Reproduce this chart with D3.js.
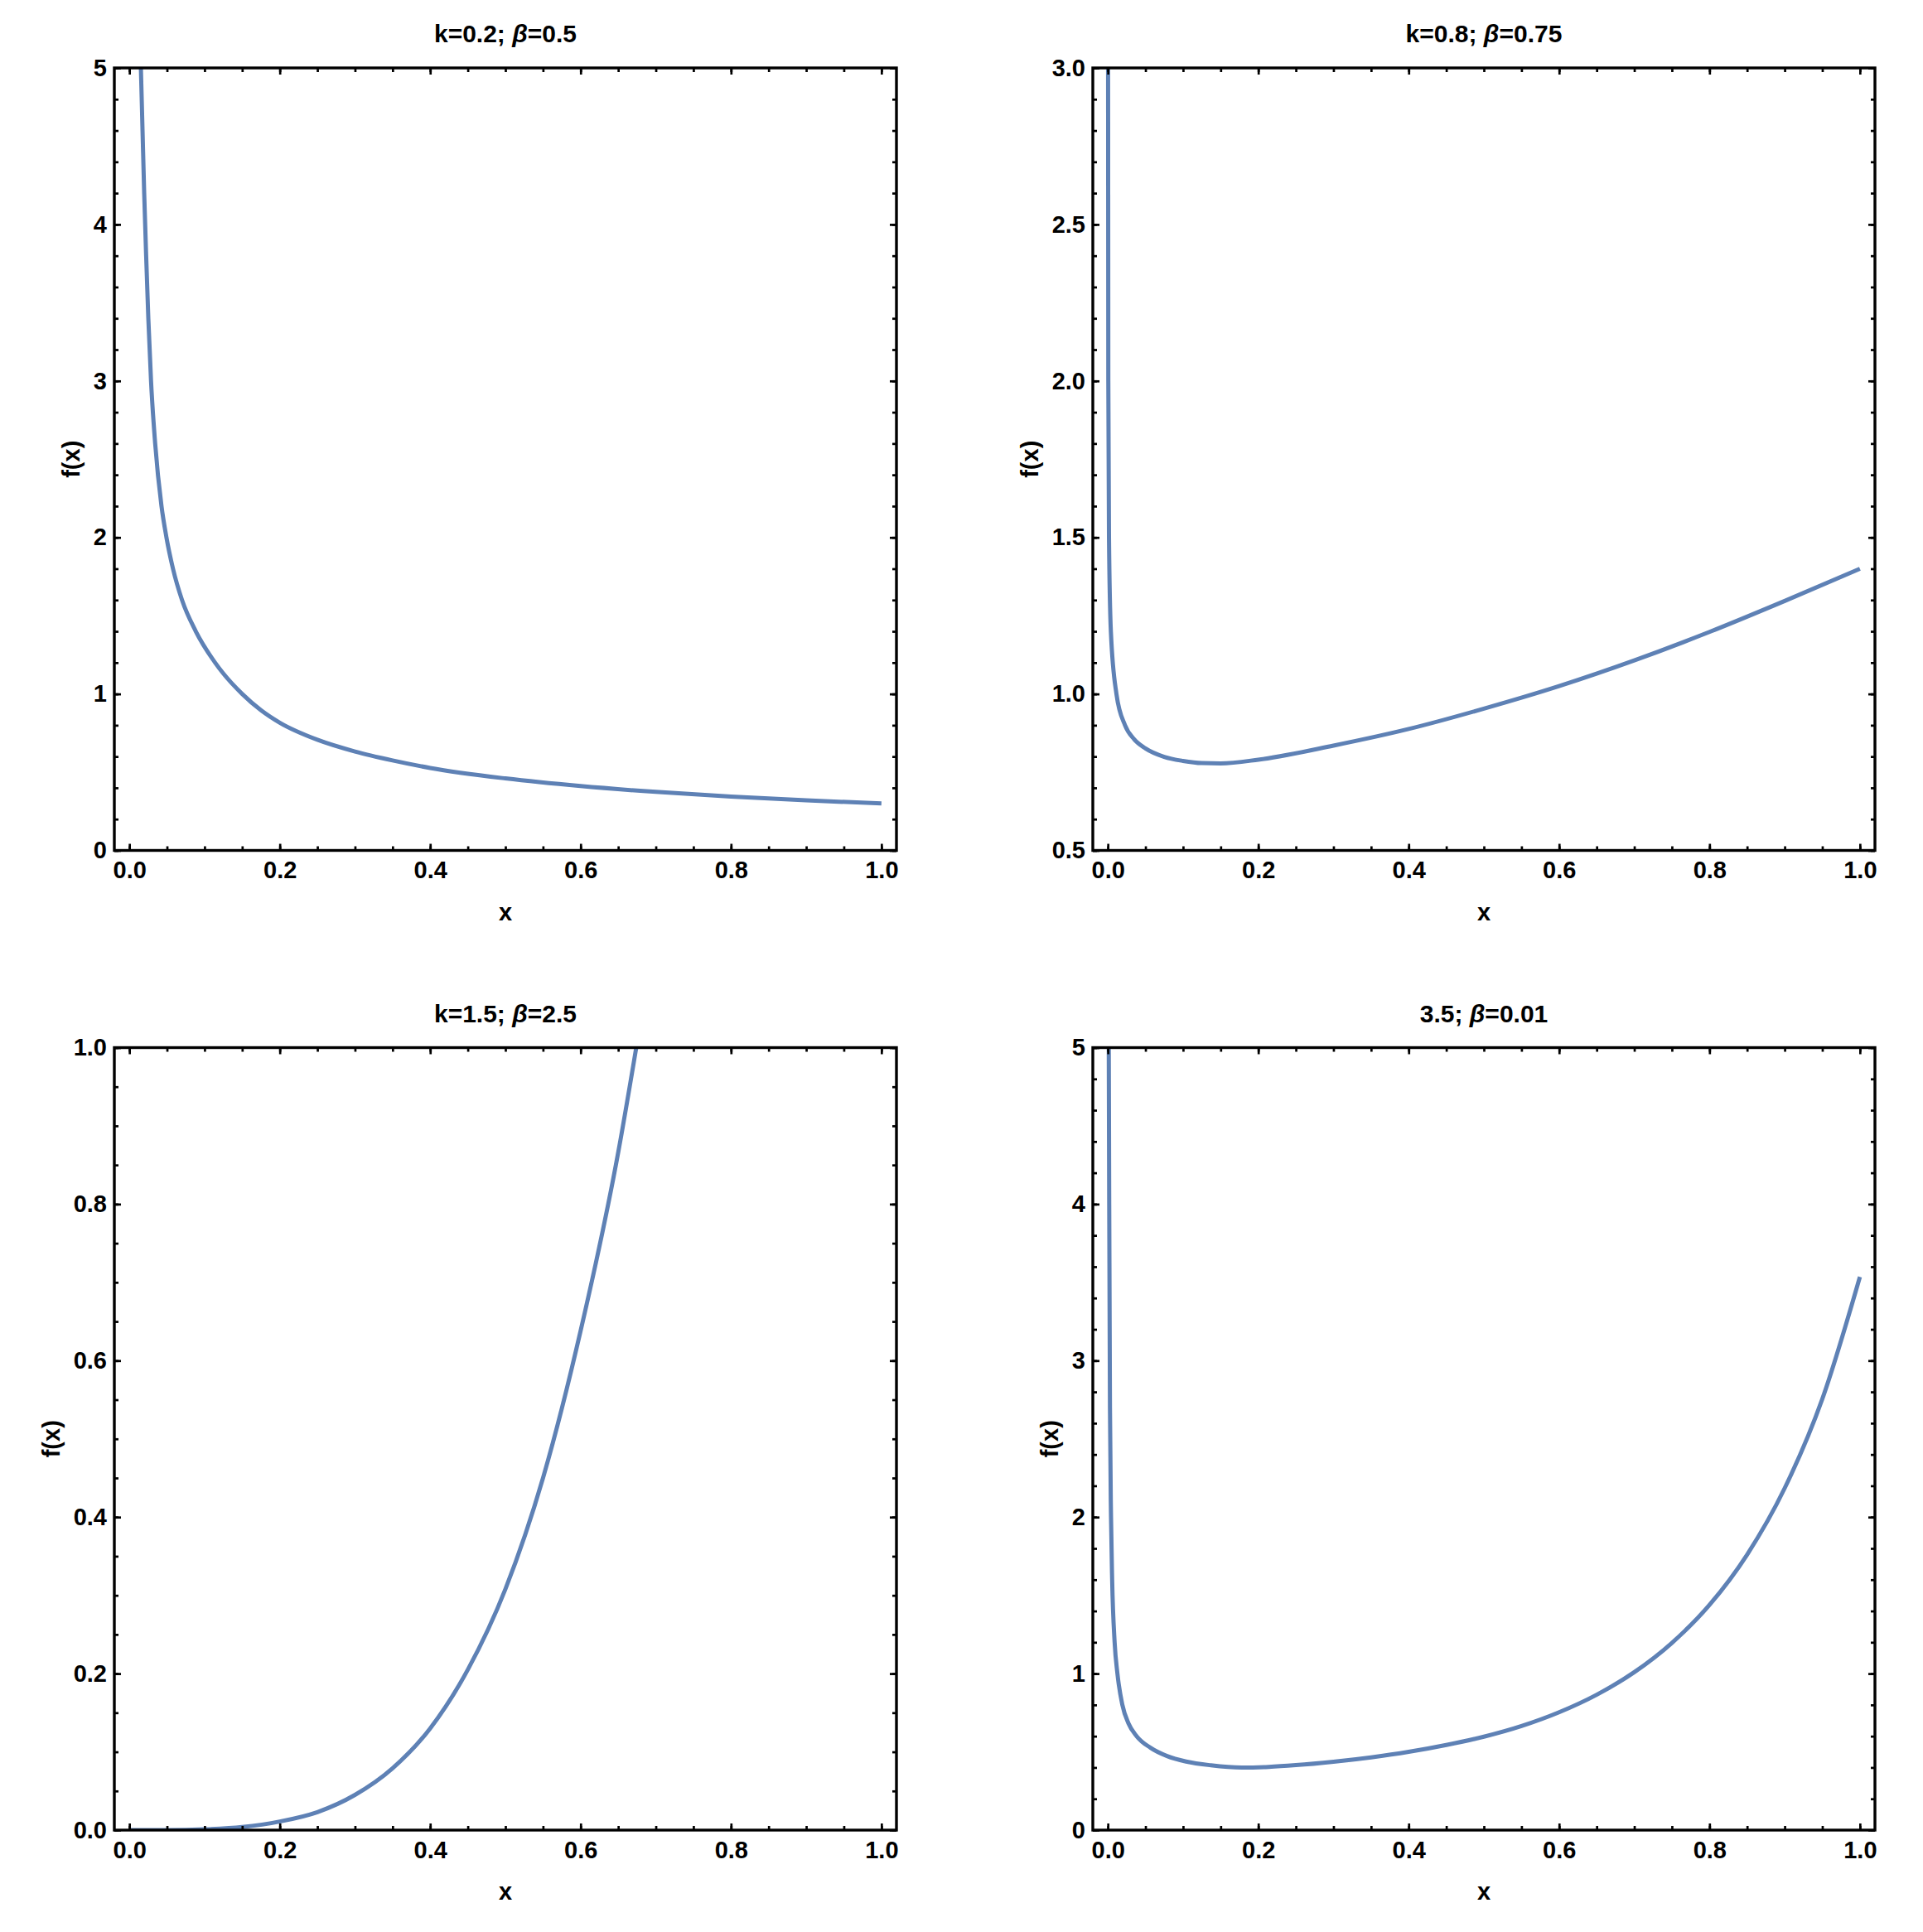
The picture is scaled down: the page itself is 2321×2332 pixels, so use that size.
<!DOCTYPE html>
<html>
<head>
<meta charset="utf-8">
<script src="https://cdn.jsdelivr.net/npm/d3@7"></script>
<style>
  body { margin: 0; background: #fff; }
  text { font-family: "Liberation Sans", Arial, sans-serif; font-weight: bold; }
</style>
</head>
<body>
<svg id="chart"></svg>
<script>
// values
const titles = ['k=0.2; β=0.5', 'k=0.8; β=0.75', 'k=1.5; β=2.5', '3.5; β=0.01'];

const xMajor = [0, 0.2, 0.4, 0.6, 0.8, 1.0];
const xLabels = ['0.0', '0.2', '0.4', '0.6', '0.8', '1.0'];

const yRanges = [[0, 5], [0.5, 3], [0, 1], [0, 5]];
const yMajor1 = [0, 1, 2, 3, 4, 5];
const yLabels1 = ['0', '1', '2', '3', '4', '5'];
const yMajor2 = [0.5, 1.0, 1.5, 2.0, 2.5, 3.0];
const yLabels2 = ['0.5', '1.0', '1.5', '2.0', '2.5', '3.0'];
const yMajor3 = [0, 0.2, 0.4, 0.6, 0.8, 1.0];
const yLabels3 = ['0.0', '0.2', '0.4', '0.6', '0.8', '1.0'];
const yMinorSteps = [0.2, 0.1, 0.05, 0.2];

const x1 = [0.0153, 0.0175, 0.0197, 0.0223, 0.0252, 0.0288, 0.0343, 0.0427, 0.0493, 0.058, 0.070, 0.0883, 0.114, 0.125, 0.150, 0.175, 0.2, 0.25, 0.3, 0.35, 0.4, 0.5, 0.6, 0.7, 0.8, 0.9, 1.0];
const f1 = [5.0, 4.6, 4.2, 3.8, 3.4, 3.0, 2.6, 2.2, 2.0, 1.8, 1.6, 1.4, 1.2, 1.13, 1.0, 0.896, 0.816, 0.707, 0.632, 0.575, 0.527, 0.46, 0.411, 0.374, 0.344, 0.32, 0.30];

const x2 = [0.0003, 0.0006, 0.0015, 0.004, 0.0114, 0.0228, 0.035, 0.05, 0.075, 0.1, 0.125, 0.15, 0.2, 0.3, 0.4, 0.5, 0.6, 0.7, 0.8, 0.9, 1.0];
const f2 = [3.0, 2.0, 1.5, 1.2, 1.0, 0.9, 0.855, 0.826, 0.799, 0.786, 0.779, 0.778, 0.79, 0.835, 0.888, 0.953, 1.025, 1.107, 1.198, 1.297, 1.40];

const x3 = [0, 0.05, 0.1, 0.15, 0.2, 0.25, 0.3, 0.35, 0.4, 0.45, 0.5, 0.55, 0.6, 0.65, 0.674];
const f3 = [0, 0, 0.001, 0.004, 0.011, 0.023, 0.045, 0.079, 0.13, 0.205, 0.308, 0.45, 0.638, 0.866, 1.0];

const x4 = [0.0012, 0.0018, 0.0028, 0.0042, 0.0057, 0.009, 0.0127, 0.0193, 0.0273, 0.0383, 0.0567, 0.0787, 0.104, 0.137, 0.178, 0.214, 0.25, 0.3, 0.35, 0.4, 0.45, 0.5, 0.55, 0.6, 0.65, 0.7, 0.75, 0.8, 0.85, 0.9, 0.95, 1.0];
const f4 = [5.0, 4.0, 2.7, 2.0, 1.6, 1.2, 1.0, 0.8, 0.683, 0.6, 0.526, 0.473, 0.438, 0.414, 0.40, 0.404, 0.415, 0.437, 0.465, 0.50, 0.544, 0.597, 0.665, 0.753, 0.865, 1.009, 1.196, 1.439, 1.76, 2.185, 2.755, 3.535];

const yMajors = [yMajor1, yMajor2, yMajor3, yMajor1];
const yLabelSets = [yLabels1, yLabels2, yLabels3, yLabels1];
const xSeries = [x1, x2, x3, x4];
const fSeries = [f1, f2, f3, f4];

const width = 2321;
const height = 2332;
const plotW = 944;
const plotH = 944.5;
const lefts = [138, 1319];
const tops = [82, 1264.5];
const lineColor = '#5E81B5';
const tickFont = 29;
const titleFont = 30;

const svg = d3.select('#chart')
  .attr('width', width)
  .attr('height', height)
  .attr('viewBox', [0, 0, width, height]);

const x = d3.scaleLinear().domain([-0.02, 1.02]).range([0, plotW]);
const xMinor = d3.ticks(0, 1, 20);

titles.forEach((title, i) => {
  const left = lefts[i % 2];
  const top = tops[Math.floor(i / 2)];
  const [y0, y1] = yRanges[i];
  const y = d3.scaleLinear().domain([y0, y1]).range([plotH, 0]);
  const yMinor = d3.range(0, Math.round((y1 - y0) / yMinorSteps[i]) + 1)
    .map(j => +(y0 + j * yMinorSteps[i]).toFixed(4));

  const g = svg.append('g').attr('transform', `translate(${left},${top})`);

  g.append('clipPath').attr('id', `clip${i}`)
    .append('rect').attr('width', plotW).attr('height', plotH);

  const data = xSeries[i].map((v, j) => [v, fSeries[i][j]]);
  const line = d3.line()
    .x(d => x(d[0]))
    .y(d => y(d[1]))
    .curve(d3.curveMonotoneX);

  g.append('path')
    .datum(data)
    .attr('clip-path', `url(#clip${i})`)
    .attr('d', line)
    .attr('fill', 'none')
    .attr('stroke', lineColor)
    .attr('stroke-width', 5)
    .attr('stroke-linejoin', 'round');

  // axes: major ticks with labels on bottom/left, mirrored ticks on top/right
  const styleAxis = sel => {
    sel.select('.domain').remove();
    sel.selectAll('line').attr('stroke', '#000').attr('stroke-width', 2.7);
    sel.selectAll('text')
      .attr('fill', '#000')
      .attr('font-size', tickFont)
      .attr('font-family', '"Liberation Sans", Arial, sans-serif')
      .attr('font-weight', 'bold');
  };

  const addAxis = (axisFn, scale, values, size, labels, transform, pad) => {
    const ax = axisFn(scale).tickValues(values).tickSizeInner(-size).tickSizeOuter(0).tickPadding(pad);
    ax.tickFormat(labels ? (d, k) => labels[k] : () => '');
    const sel = g.append('g').attr('transform', transform).call(ax);
    styleAxis(sel);
    return sel;
  };

  addAxis(d3.axisBottom, x, xMinor, 5, null, `translate(0,${plotH})`, 13);
  addAxis(d3.axisBottom, x, xMajor, 8, xLabels, `translate(0,${plotH})`, 13);
  addAxis(d3.axisTop, x, xMinor, 5, null, 'translate(0,0)', 14);
  addAxis(d3.axisTop, x, xMajor, 8, null, 'translate(0,0)', 14);

  addAxis(d3.axisLeft, y, yMinor, 5, null, 'translate(0,0)', 9);
  const leftAxis = addAxis(d3.axisLeft, y, yMajors[i], 8, yLabelSets[i], 'translate(0,0)', 9);
  addAxis(d3.axisRight, y, yMinor, 5, null, `translate(${plotW},0)`, 9);
  addAxis(d3.axisRight, y, yMajors[i], 8, null, `translate(${plotW},0)`, 9);

  // frame
  g.append('rect')
    .attr('width', plotW)
    .attr('height', plotH)
    .attr('fill', 'none')
    .attr('stroke', '#000')
    .attr('stroke-width', 3.4);

  // title with italic beta
  const [before, after] = title.split('β');
  const t = g.append('text')
    .attr('x', plotW / 2)
    .attr('y', -31)
    .attr('text-anchor', 'middle')
    .attr('font-size', titleFont)
    .attr('fill', '#000');
  t.append('tspan').text(before);
  t.append('tspan').attr('font-style', 'italic').text('β');
  t.append('tspan').text(after);

  // axis labels
  g.append('text')
    .attr('x', plotW / 2)
    .attr('y', plotH + 84)
    .attr('text-anchor', 'middle')
    .attr('font-size', tickFont)
    .attr('fill', '#000')
    .text('x');

  const labelWidth = d3.max(leftAxis.selectAll('text').nodes(), n => n.getComputedTextLength());
  const cx = -(9 + labelWidth + 27);
  g.append('text')
    .attr('transform', `translate(${cx},${plotH / 2}) rotate(-90)`)
    .attr('text-anchor', 'middle')
    .attr('dominant-baseline', 'central')
    .attr('font-size', tickFont)
    .attr('fill', '#000')
    .text('f(x)');
});
</script>
</body>
</html>
